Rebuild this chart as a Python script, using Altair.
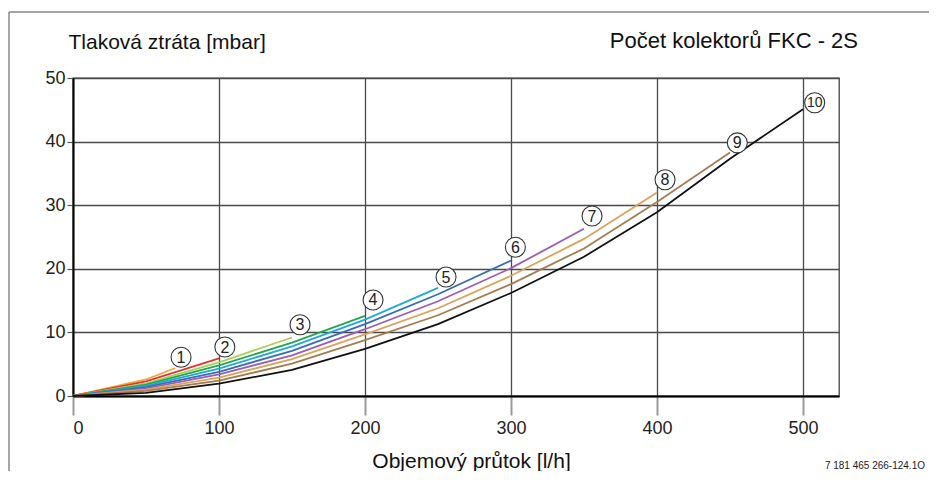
import altair as alt
import pandas as pd

# ---- data ----
flow = [0, 50, 100, 150, 200, 250, 300, 350, 400, 450, 500]
curve_ids = ["1", "2", "3", "4", "5", "6", "7", "8", "9", "10"]

c1_flow = [0, 50, 70]
c1 = [0, 2.6, 4.4]
c2 = [0, 2.3, 5.9]
c3 = [0, 2.0, 5.3, 9.2]
c4 = [0, 1.8, 4.8, 8.4, 12.6]
c5 = [0, 1.6, 4.3, 7.8, 12.0, 17.0]
c6 = [0, 1.4, 3.8, 7.1, 11.3, 16.0, 21.3]
c7 = [0, 1.2, 3.4, 6.4, 10.5, 14.9, 20.1, 26.3]
c8 = [0, 1.0, 2.9, 5.8, 9.7, 13.8, 18.9, 24.7, 32.0]
c9 = [0, 0.8, 2.4, 5.1, 8.8, 12.7, 17.6, 23.2, 30.5, 38.3]
c10 = [0, 0.5, 1.95, 4.1, 7.4, 11.3, 16.2, 21.9, 28.9, 37.3, 45.1]

curve_colors = ["#f4a53c", "#e5332f", "#a9cf5b", "#22a84a", "#1ea8dc",
                "#386cb3", "#9a5db3", "#d8a45c", "#a67b50", "#111111"]

label_x = [74, 104, 155.5, 205.5, 255.5, 303, 355.5, 405.5, 455, 508]
label_y = [6.1, 7.7, 11.2, 15.1, 18.7, 23.4, 28.3, 34.0, 39.8, 46.1]

x_ticks = [0, 100, 200, 300, 400, 500]
y_ticks = [0, 10, 20, 30, 40, 50]

y_title = "Tlaková ztráta [mbar]"
right_title = "Počet kolektorů FKC - 2S"
x_title = "Objemový průtok [l/h]"
code_text = "7 181 465 266-124.1O"

# ---- build table ----
rows = []
series = [c1, c2, c3, c4, c5, c6, c7, c8, c9, c10]
for cid, vals in zip(curve_ids, series):
    xs = c1_flow if cid == "1" else flow[:len(vals)]
    for i, (fx, fy) in enumerate(zip(xs, vals)):
        rows.append({"curve": cid, "flow": fx, "dp": fy, "ord": i})
df = pd.DataFrame(rows)
labels = pd.DataFrame({"curve": curve_ids, "lx": label_x, "ly": label_y})

FONT = "Liberation Sans"
W, H = 766, 318
x_scale = alt.Scale(domain=[0, 524.66], nice=False, zero=True)
y_scale = alt.Scale(domain=[0, 50], nice=False)

x_axis = alt.Axis(values=x_ticks, grid=True, gridColor="#4a4a4a", gridWidth=1.3,
                  tickSize=19, tickColor="#9a9a9a", tickWidth=2,
                  domainColor="#000000", domainWidth=2,
                  labelFont=FONT, labelFontSize=18, labelColor="#222222", labelPadding=4,
                  title=x_title, titleFont=FONT, titleFontSize=21, titleFontWeight="normal",
                  titleColor="#111111", titleX=398, titleY=71, titleAlign="center",
                  titleBaseline="alphabetic")
y_axis = alt.Axis(values=y_ticks, grid=True, gridColor="#4a4a4a", gridWidth=1.3,
                  tickSize=6, tickColor="#555555", tickWidth=1.2,
                  domainColor="#000000", domainWidth=2,
                  labelFont=FONT, labelFontSize=18, labelColor="#222222", labelPadding=2,
                  title=y_title, titleFont=FONT, titleFontSize=21, titleFontWeight="normal",
                  titleColor="#111111", titleAngle=0, titleX=-5, titleY=-30,
                  titleAlign="left", titleBaseline="alphabetic")

color = alt.Color("curve:N", scale=alt.Scale(domain=curve_ids, range=curve_colors), legend=None)

lines = alt.Chart(df).mark_line(strokeWidth=1.8).encode(
    x=alt.X("flow:Q", scale=x_scale, axis=x_axis),
    y=alt.Y("dp:Q", scale=y_scale, axis=y_axis),
    color=color,
    order="ord:Q",
)

circles = alt.Chart(labels).mark_point(shape="circle", size=400, filled=False,
                                       fill="white", fillOpacity=1, stroke="#333333",
                                       strokeWidth=1.1, opacity=1).encode(
    x=alt.X("lx:Q", scale=x_scale), y=alt.Y("ly:Q", scale=y_scale))

nums = alt.Chart(labels).mark_text(font=FONT, fontSize=16, color="#222222",
                                   baseline="middle", align="center", dy=0.5).encode(
    x=alt.X("lx:Q", scale=x_scale), y=alt.Y("ly:Q", scale=y_scale), text="curve:N",
    size=alt.condition(alt.datum.curve == "10", alt.value(14), alt.value(16)))

one = pd.DataFrame({"t": [right_title]})
rtitle = alt.Chart(one).mark_text(font=FONT, fontSize=22, color="#111111",
                                  align="right", baseline="alphabetic").encode(
    x=alt.value(785), y=alt.value(-30), text="t:N")

code = alt.Chart(pd.DataFrame({"t": [code_text]})).mark_text(
    font=FONT, fontSize=10, color="#222222", align="right", baseline="alphabetic").encode(
    x=alt.value(852), y=alt.value(391), text="t:N")

frame_top = alt.Chart(pd.DataFrame({"a": [0]})).mark_rule(color="#888888", strokeWidth=1.5).encode(
    x=alt.value(-64), x2=alt.value(856), y=alt.value(-66))
frame_left = alt.Chart(pd.DataFrame({"a": [0]})).mark_rule(color="#888888", strokeWidth=1.5).encode(
    x=alt.value(-64), y=alt.value(-66), y2=alt.value(393))

chart = alt.layer(frame_top, frame_left, lines, circles, nums, rtitle, code).properties(
    width=W, height=H,
    autosize=alt.AutoSizeParams(type="none"),
    padding={"left": 65, "top": 70, "right": 90, "bottom": 75},
    background="white",
).configure_view(stroke="#444444", strokeWidth=1.3)

chart.save("out.html", embed_options={"renderer": "svg", "actions": False})
